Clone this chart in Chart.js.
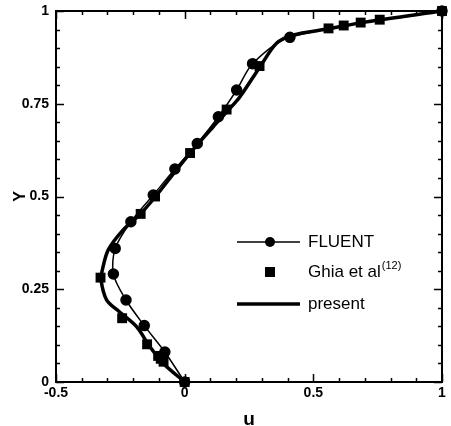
<!DOCTYPE html>
<html>
<head>
<meta charset="utf-8">
<script src="https://cdn.jsdelivr.net/npm/chart.js@4"></script>
<style>
  html, body { margin: 0; padding: 0; background: #fff; }
</style>
</head>
<body>
<canvas id="c" width="451" height="426"></canvas>
<script>
// FLUENT (circles + thin line)
const fluentU = [0, -0.077, -0.157, -0.228, -0.277, -0.27, -0.209, -0.122, -0.038, 0.049, 0.131, 0.202, 0.264, 0.409, 1];
const fluentY = [0, 0.081, 0.152, 0.221, 0.291, 0.36, 0.432, 0.504, 0.574, 0.643, 0.715, 0.787, 0.858, 0.929, 1];

// Ghia et al (squares only)
const ghiaU = [1, 0.758, 0.684, 0.618, 0.559, 0.291, 0.163, 0.021, -0.115, -0.171, -0.327, -0.243, -0.146, -0.103, -0.093, -0.082, 0];
const ghiaY = [1, 0.9766, 0.9688, 0.9609, 0.9531, 0.8516, 0.7344, 0.6172, 0.5, 0.4531, 0.2813, 0.1719, 0.1016, 0.0703, 0.0625, 0.0547, 0];

// present (thick line)
const presentU = [0, -0.083, -0.135, -0.187, -0.255, -0.303, -0.325, -0.32, -0.297, -0.239, -0.172, -0.113, -0.045, 0.021, 0.111, 0.17, 0.215, 0.293, 0.357, 0.42, 0.56, 0.7, 1];
const presentY = [0, 0.05, 0.095, 0.149, 0.19, 0.221, 0.275, 0.302, 0.356, 0.41, 0.453, 0.5, 0.56, 0.617, 0.688, 0.733, 0.769, 0.85, 0.913, 0.935, 0.952, 0.97, 1];

const xTicks = [-0.5, 0, 0.5, 1];
const xTickLabels = ['-0.5', '0', '0.5', '1'];
const yTicks = [0, 0.25, 0.5, 0.75, 1];
const yTickLabels = ['0', '0.25', '0.5', '0.75', '1'];
const xMinorStep = 0.1;
const yMinorStep = 0.05;

const pts = (us, ys) => us.map((u, i) => ({ x: u, y: ys[i] }));
const FONT = '"Liberation Sans", Arial, Helvetica, sans-serif';

// inward ticks on all four sides plus the box
const frameTicks = {
  id: 'frameTicks',
  afterDatasetsDraw(chart) {
    const { ctx, chartArea: a, scales: { x, y } } = chart;
    ctx.save();
    ctx.strokeStyle = '#000';
    ctx.lineWidth = 1.5;
    ctx.beginPath();
    const nx = Math.round((x.max - x.min) / xMinorStep);
    for (let i = 0; i <= nx; i++) {
      const v = x.min + i * xMinorStep;
      const px = Math.round(x.getPixelForValue(v)) + 0.5;
      const len = i % 5 === 0 ? 8 : 4;
      ctx.moveTo(px, a.bottom); ctx.lineTo(px, a.bottom - len);
      ctx.moveTo(px, a.top); ctx.lineTo(px, a.top + len);
    }
    const ny = Math.round((y.max - y.min) / yMinorStep);
    for (let i = 0; i <= ny; i++) {
      const v = y.min + i * yMinorStep;
      const py = Math.round(y.getPixelForValue(v)) + 0.5;
      const len = i % 5 === 0 ? 8 : 4;
      ctx.moveTo(a.left, py); ctx.lineTo(a.left + len, py);
      ctx.moveTo(a.right, py); ctx.lineTo(a.right - len, py);
    }
    ctx.stroke();
    ctx.lineWidth = 2;
    ctx.strokeRect(a.left, a.top, a.right - a.left, a.bottom - a.top);
    ctx.restore();
  }
};

// legend inside the plot
const boxLegend = {
  id: 'boxLegend',
  afterDraw(chart) {
    const { ctx } = chart;
    const ds = chart.data.datasets;
    const x0 = 237, x1 = 300, xm = 270, tx = 308;
    const rows = [242, 272, 304];
    ctx.save();
    ctx.fillStyle = '#000';
    ctx.strokeStyle = '#000';
    ctx.textBaseline = 'middle';
    ctx.font = '17px ' + FONT;

    // FLUENT
    ctx.lineWidth = ds[0].borderWidth;
    ctx.beginPath(); ctx.moveTo(x0, rows[0]); ctx.lineTo(x1, rows[0]); ctx.stroke();
    ctx.beginPath(); ctx.arc(xm, rows[0], ds[0].pointRadius, 0, Math.PI * 2); ctx.fill();
    ctx.fillText(ds[0].label, tx, rows[0]);

    // Ghia
    const s = 10;
    ctx.fillRect(xm - s / 2, rows[1] - s / 2, s, s);
    ctx.fillText(ds[1].label, tx, rows[1]);
    const w = ctx.measureText(ds[1].label).width;
    ctx.font = '11px ' + FONT;
    ctx.fillText('(12)', tx + w + 1, rows[1] - 6);
    ctx.font = '17px ' + FONT;

    // present
    ctx.lineWidth = ds[2].borderWidth;
    ctx.beginPath(); ctx.moveTo(x0, rows[2]); ctx.lineTo(x1, rows[2]); ctx.stroke();
    ctx.fillText(ds[2].label, tx, rows[2]);
    ctx.restore();
  }
};

const noPad = (s) => { s.paddingTop = 0; s.paddingBottom = 0; s.paddingLeft = 0; s.paddingRight = 0; };

new Chart(document.getElementById('c'), {
  type: 'scatter',
  data: {
    datasets: [
      {
        label: 'FLUENT',
        data: pts(fluentU, fluentY),
        showLine: true,
        borderColor: '#000',
        backgroundColor: '#000',
        borderWidth: 1.5,
        pointRadius: 5,
        pointStyle: 'circle',
        tension: 0.3,
        clip: false
      },
      {
        label: 'Ghia et al',
        data: pts(ghiaU, ghiaY),
        showLine: false,
        borderColor: '#000',
        backgroundColor: '#000',
        pointStyle: 'rect',
        pointRadius: 7,
        borderWidth: 0,
        clip: false
      },
      {
        label: 'present',
        data: pts(presentU, presentY),
        showLine: true,
        borderColor: '#000',
        borderWidth: 3.5,
        pointRadius: 0,
        tension: 0.3,
        clip: false
      }
    ]
  },
  options: {
    responsive: false,
    animation: false,
    layout: { padding: { top: 11, right: 9, left: 0, bottom: 0 } },
    plugins: {
      legend: { display: false },
      tooltip: { enabled: false }
    },
    scales: {
      x: {
        type: 'linear',
        min: -0.5,
        max: 1,
        afterBuildTicks: (s) => { s.ticks = xTicks.map(v => ({ value: v })); },
        afterFit: (s) => { s.height = 44; noPad(s); },
        grid: { display: false, drawTicks: false },
        border: { display: false },
        ticks: {
          padding: 3,
          color: '#000',
          callback: (v, i) => xTickLabels[i],
          font: { family: FONT, size: 14, weight: 'bold' }
        },
        title: {
          display: true,
          text: 'u',
          color: '#000',
          font: { family: FONT, size: 19, weight: 'bold', lineHeight: 1 },
          padding: { top: 0, bottom: -3 }
        }
      },
      y: {
        type: 'linear',
        min: 0,
        max: 1,
        afterBuildTicks: (s) => { s.ticks = yTicks.map(v => ({ value: v })); },
        afterFit: (s) => { s.width = 56; noPad(s); },
        grid: { display: false, drawTicks: false },
        border: { display: false },
        ticks: {
          padding: 7,
          color: '#000',
          callback: (v, i) => yTickLabels[i],
          font: { family: FONT, size: 14, weight: 'bold' }
        },
        title: {
          display: true,
          text: 'Y',
          color: '#000',
          font: { family: FONT, size: 16, weight: 'bold', lineHeight: 1 },
          padding: { top: 13, bottom: 0 }
        }
      }
    }
  },
  plugins: [frameTicks, boxLegend]
});
</script>
</body>
</html>
